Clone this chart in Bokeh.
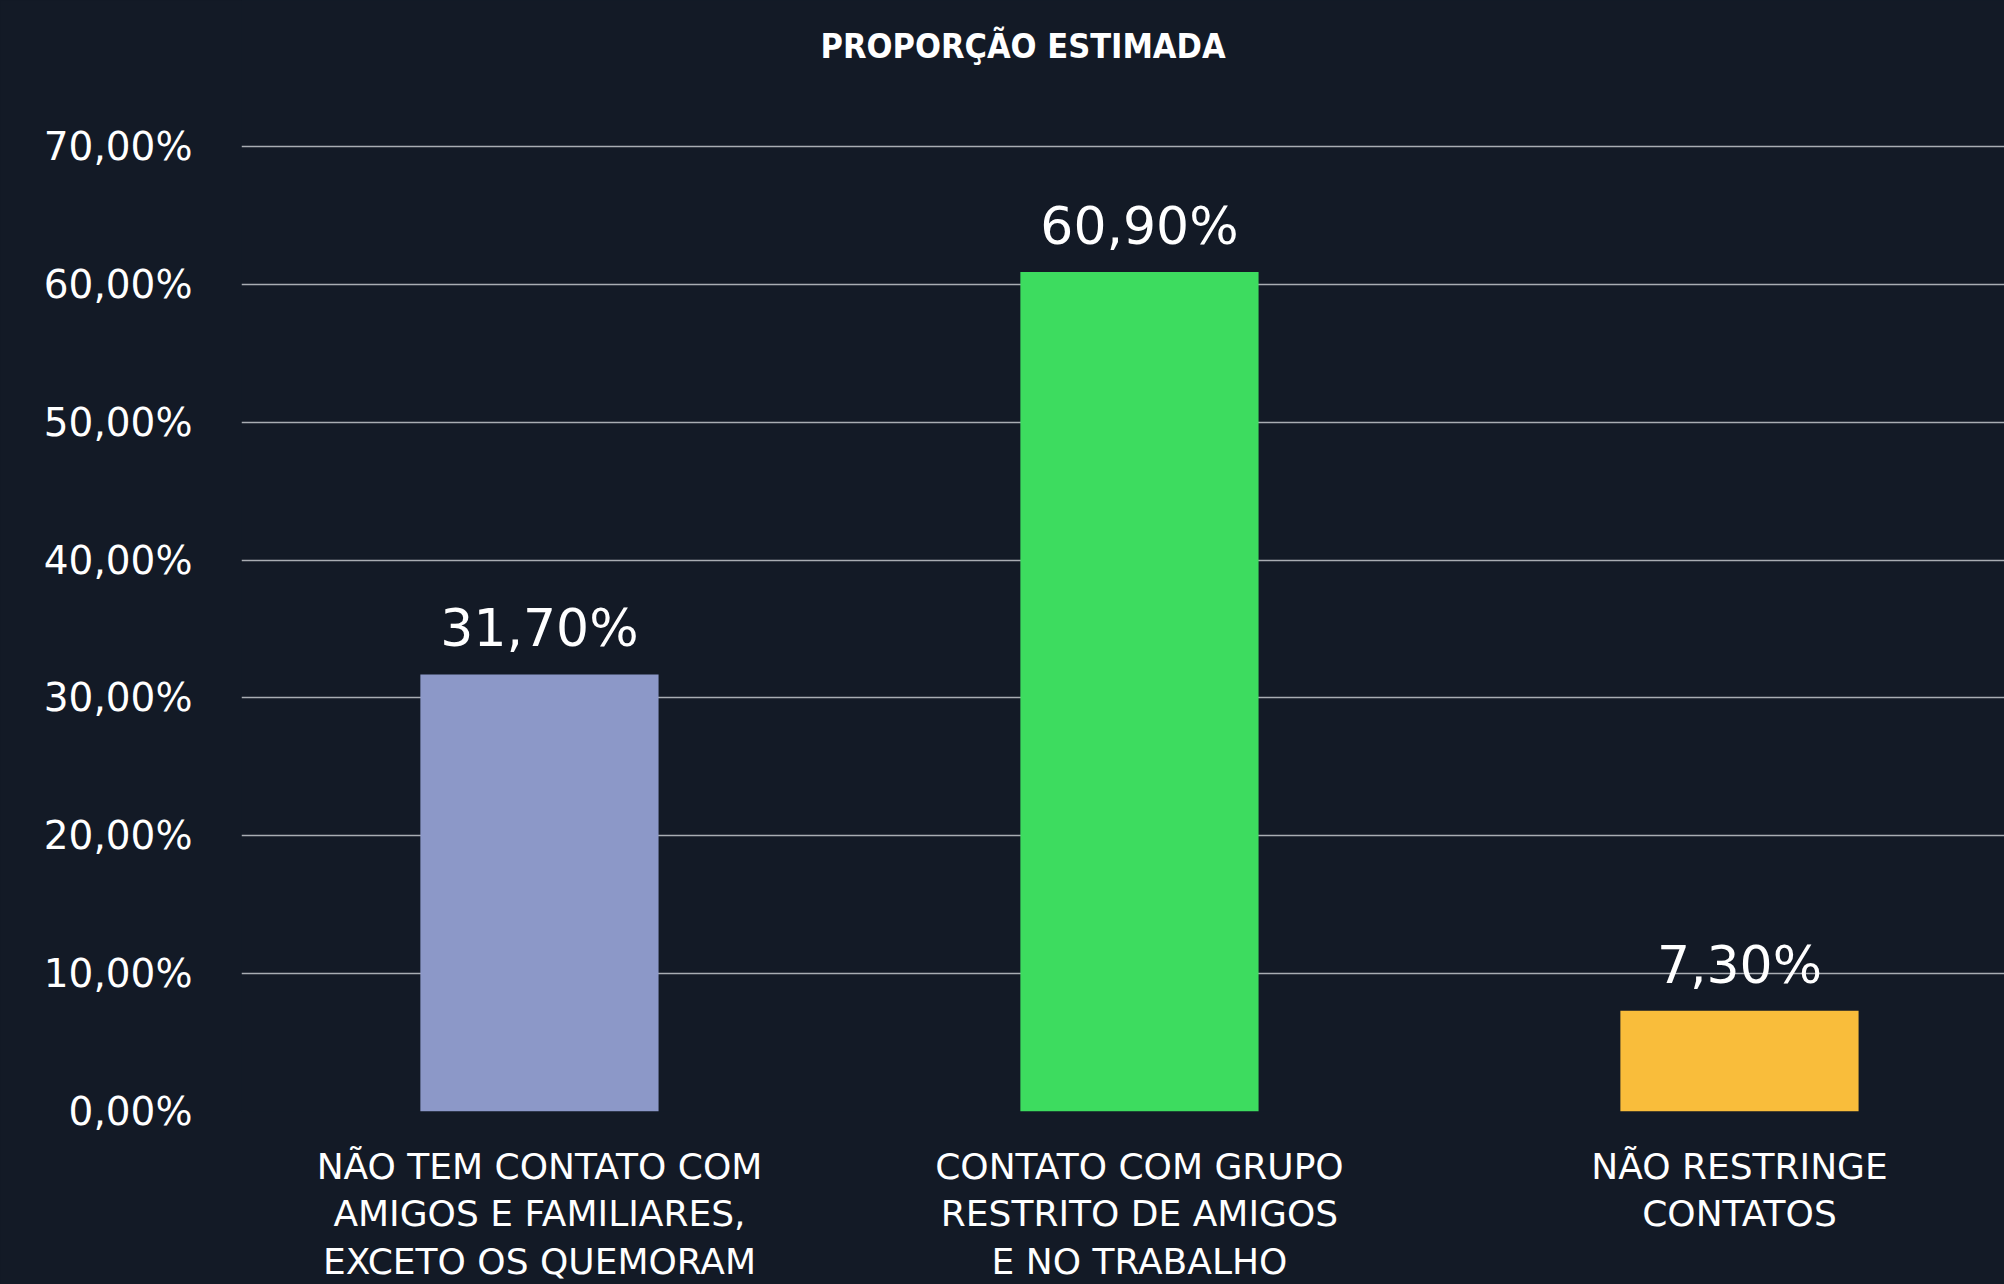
from bokeh.plotting import figure
from bokeh.models import Range1d, FixedTicker, ColumnDataSource, Label
from bokeh.core.properties import value
from bokeh.embed import file_html
from bokeh.resources import INLINE

# ---- data ----
categories = [
    "NÃO TEM CONTATO COM\nAMIGOS E FAMILIARES,\nEXCETO OS QUEMORAM",
    "CONTATO COM GRUPO\nRESTRITO DE AMIGOS\nE NO TRABALHO",
    "NÃO RESTRINGE\nCONTATOS",
]
values = [31.7, 60.9, 7.3]
bar_colors = ["#8c98c8", "#3ddc5f", "#f9bd3b"]
y_ticks = [0, 10, 20, 30, 40, 50, 60, 70]
title_text = "PROPORÇÃO ESTIMADA"

BG = "#131a26"

def pct(v):
    return f"{v:.2f}".replace(".", ",") + "%"

xs = [i + 0.5 for i in range(len(categories))]
src = ColumnDataSource(dict(x=xs, top=values, color=bar_colors,
                            label=[pct(v) for v in values]))

# frame reaches the top of the page; the 0..70 % scale spans the same pixels
# as in the reference, the extra room above holds the title
p = figure(width=2004, height=1284, output_backend="svg", toolbar_location=None,
           x_range=Range1d(0.0034, 2.9417), y_range=Range1d(0, 80.59),
           min_border_left=241, min_border_right=0, min_border_top=0,
           min_border_bottom=173)
p.background_fill_color = BG
p.border_fill_color = BG
p.outline_line_color = None
p.styles = {"background-color": BG}

title = Label(x=1.306, y=77.3, text=title_text, text_align="center",
              text_baseline="middle",
              text_font="'DejaVu Sans Condensed', Roboto", text_font_style="bold",
              text_font_size="34px", text_color="white")
p.add_layout(title)

p.vbar(x="x", top="top", width=0.397, bottom=0, color="color", line_color=None, source=src)
p.text(x="x", y="top", text="label", source=src, y_offset=-46,
       text_align="center", text_baseline="alphabetic",
       text_font=value("DejaVu Sans"), text_font_size="52px", text_color="white")

# y axis
p.yaxis.ticker = FixedTicker(ticks=y_ticks)
p.yaxis.major_label_overrides = {v: pct(v) for v in y_ticks}
p.yaxis.axis_line_color = None
p.yaxis.major_tick_line_color = None
p.yaxis.minor_tick_line_color = None
p.yaxis.major_tick_out = 0
p.yaxis.major_label_standoff = 49
p.yaxis.major_label_text_font = "DejaVu Sans"
p.yaxis.major_label_text_font_size = "39px"
p.yaxis.major_label_text_color = "white"

# x axis
p.xaxis.ticker = FixedTicker(ticks=xs)
p.xaxis.major_label_overrides = {x: c for x, c in zip(xs, categories)}
p.xaxis.axis_line_color = None
p.xaxis.major_tick_line_color = None
p.xaxis.minor_tick_line_color = None
p.xaxis.major_tick_out = 0
p.xaxis.major_label_standoff = 34
p.xaxis.major_label_text_font = "DejaVu Sans"
p.xaxis.major_label_text_font_size = "36px"
p.xaxis.major_label_text_color = "white"
p.xaxis.major_label_text_line_height = 1.16

p.xgrid.grid_line_color = None
p.ygrid.grid_line_color = "#a9adb3"
p.ygrid.grid_line_width = 1.5
p.ygrid.level = "underlay"

open("out.html", "w").write(file_html(p, INLINE))
